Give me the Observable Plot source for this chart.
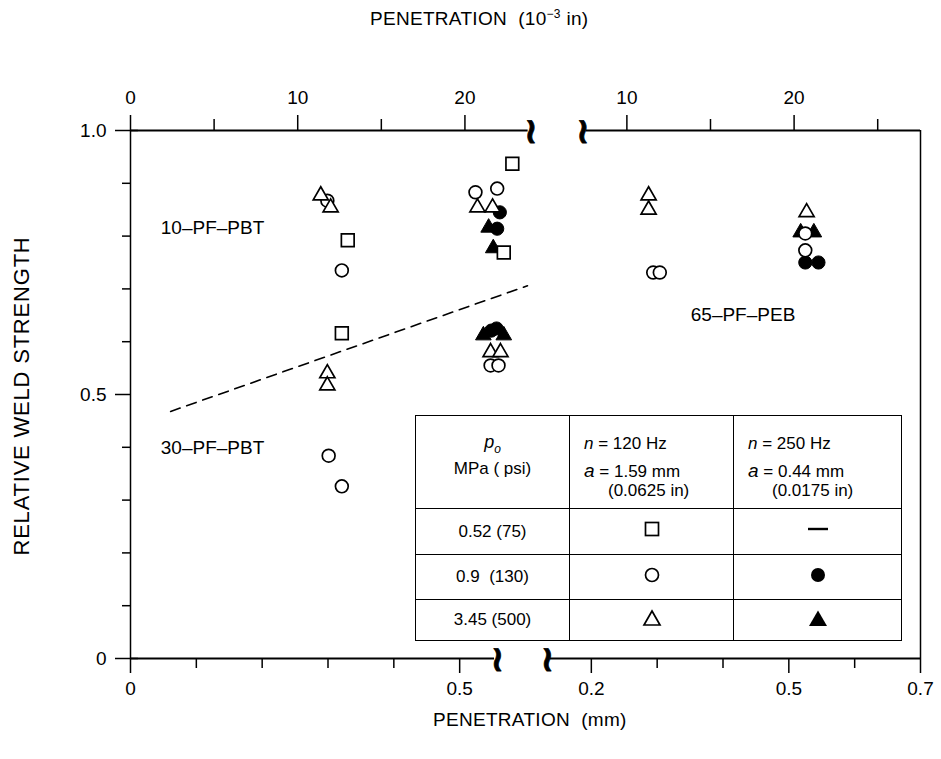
<!DOCTYPE html>
<html><head><meta charset="utf-8">
<script src="https://cdn.jsdelivr.net/npm/d3@7"></script>
<script src="https://cdn.jsdelivr.net/npm/@observablehq/plot@0.6"></script>
<style>
body{margin:0;background:#fff;}
#wrap{position:relative;width:941px;height:759px;font-family:"Liberation Sans",Arial,Helvetica,sans-serif;color:#000;}
#wrap svg.plot{position:absolute;left:0;top:0;}
.t{position:absolute;white-space:nowrap;font-size:19px;letter-spacing:0.3px;}
table{position:absolute;left:415px;top:415px;width:486px;height:226px;border-collapse:collapse;font-size:17px;background:#fff;table-layout:fixed;}
td{border:1.5px solid #000;padding:0;text-align:center;vertical-align:middle;}
td.h{text-align:left;padding-left:14px;vertical-align:top;padding-top:18px;font-size:17px;}
td.p{vertical-align:top;padding-top:17px;}
</style></head>
<body><div id="wrap"></div>
<script>
// ---- data (RELATIVE WELD STRENGTH vs PENETRATION, mm) ----
// panel "PBT" = left part of the broken axis, "PEB" = right part
const PEB_OFFSET = 0.5; // right panel value 0.2 sits where 0.7 would be

const openSquare120 = [
  {panel:"PBT", mm:0.330, s:0.792},
  {panel:"PBT", mm:0.321, s:0.616},
  {panel:"PBT", mm:0.580, s:0.937},
  {panel:"PBT", mm:0.567, s:0.769}
];
const openCircle120 = [
  {panel:"PBT", mm:0.299, s:0.867},
  {panel:"PBT", mm:0.321, s:0.735},
  {panel:"PBT", mm:0.301, s:0.384},
  {panel:"PBT", mm:0.321, s:0.326},
  {panel:"PBT", mm:0.524, s:0.883},
  {panel:"PBT", mm:0.557, s:0.890},
  {panel:"PBT", mm:0.547, s:0.555},
  {panel:"PBT", mm:0.559, s:0.555},
  {panel:"PEB", mm:0.294, s:0.731},
  {panel:"PEB", mm:0.304, s:0.731},
  {panel:"PEB", mm:0.525, s:0.805},
  {panel:"PEB", mm:0.525, s:0.773}
];
const openTriangle120 = [
  {panel:"PBT", mm:0.289, s:0.877},
  {panel:"PBT", mm:0.304, s:0.854},
  {panel:"PBT", mm:0.299, s:0.540},
  {panel:"PBT", mm:0.299, s:0.517},
  {panel:"PBT", mm:0.527, s:0.854},
  {panel:"PBT", mm:0.550, s:0.854},
  {panel:"PBT", mm:0.547, s:0.580},
  {panel:"PBT", mm:0.562, s:0.580},
  {panel:"PEB", mm:0.287, s:0.877},
  {panel:"PEB", mm:0.287, s:0.850},
  {panel:"PEB", mm:0.527, s:0.845}
];
const filledCircle250 = [
  {panel:"PBT", mm:0.561, s:0.845},
  {panel:"PBT", mm:0.557, s:0.814},
  {panel:"PBT", mm:0.548, s:0.621},
  {panel:"PBT", mm:0.556, s:0.625},
  {panel:"PEB", mm:0.525, s:0.750},
  {panel:"PEB", mm:0.545, s:0.750}
];
const filledTriangle250 = [
  {panel:"PBT", mm:0.544, s:0.816},
  {panel:"PBT", mm:0.551, s:0.777},
  {panel:"PBT", mm:0.536, s:0.612},
  {panel:"PBT", mm:0.567, s:0.612},
  {panel:"PEB", mm:0.518, s:0.807},
  {panel:"PEB", mm:0.538, s:0.807}
];
// dashed boundary line
const dashedLine = [
  {panel:"PBT", mm:0.061, s:0.468},
  {panel:"PBT", mm:0.603, s:0.706}
];
// material labels
const materialLabels = [
  {panel:"PBT", mm:0.046, s:0.816, text:"10–PF–PBT"},
  {panel:"PBT", mm:0.046, s:0.398, text:"30–PF–PBT"},
  {panel:"PEB", mm:0.351, s:0.650, text:"65–PF–PEB"}
];

// axis ticks (positions on the continuous broken-axis scale)
const bottomMajorPos = [0, 0.5, 0.7, 1.0, 1.2];
const bottomMajorLabels = ["0", "0.5", "0.2", "0.5", "0.7"];
const bottomMinorPos = [0.1, 0.2, 0.3, 0.4, 0.8, 0.9, 1.1];
const MIL = 0.0254; // mm per 10^-3 in
const topMajorMils = [0, 10, 20, 10, 20];
const topMajorPanels = ["PBT","PBT","PBT","PEB","PEB"];
const topMinorMils = [5, 15, 15, 25];
const topMinorPanels = ["PBT","PBT","PEB","PEB"];
const yMajor = [0, 0.5, 1.0];
const yMajorLabels = ["0", "0.5", "1.0"];
const yMinor = [0.1,0.2,0.3,0.4,0.6,0.7,0.8,0.9];
// axis breaks
const bottomBreaks = [0.557, 0.633];
const topBreaks = [0.608, 0.687];
const X_END = 1.2;

const pos = d => d.mm + (d.panel === "PEB" ? PEB_OFFSET : 0);
const topMajorPos = topMajorMils.map((m,i) => m*MIL + (topMajorPanels[i]==="PEB"?PEB_OFFSET:0));
const topMinorPos = topMinorMils.map((m,i) => m*MIL + (topMinorPanels[i]==="PEB"?PEB_OFFSET:0));
const bLab = new Map(bottomMajorPos.map((p,i)=>[p,bottomMajorLabels[i]]));
const tLab = new Map(topMajorPos.map((p,i)=>[p,String(topMajorMils[i])]));
const yLab = new Map(yMajor.map((p,i)=>[p,yMajorLabels[i]]));

const FS = 19;
const chart = Plot.plot({
  width: 941, height: 759,
  marginLeft: 130, marginRight: 21, marginTop: 130, marginBottom: 101,
  x: {domain: [0, X_END], axis: null},
  y: {domain: [0, 1], axis: null},
  style: {fontFamily: '"Liberation Sans", Arial, Helvetica, sans-serif', fontSize: FS + "px", color: "black", background: "transparent", overflow: "visible"},
  marks: [
    // axis lines
    Plot.ruleX([0], {y1: 0, y2: 1, strokeWidth: 1.5}),
    Plot.ruleX([X_END], {y1: 0, y2: 1, strokeWidth: 1.5}),
    Plot.ruleY([0], {x1: 0, x2: bottomBreaks[0] - 0.004, strokeWidth: 2}),
    Plot.ruleY([0], {x1: bottomBreaks[1] + 0.005, x2: X_END, strokeWidth: 2}),
    Plot.ruleY([1], {x1: 0, x2: topBreaks[0] - 0.004, strokeWidth: 2}),
    Plot.ruleY([1], {x1: topBreaks[1] + 0.005, x2: X_END, strokeWidth: 2}),
    // break symbols
    Plot.text(bottomBreaks, {x: d => d, y: 0, text: () => "≀", fontSize: 36, fontWeight: "bold", fontFamily: "DejaVu Sans", stroke: "black", strokeWidth: 0.8, fill: "black", dy: 1}),
    Plot.text(topBreaks, {x: d => d, y: 1, text: () => "≀", fontSize: 36, fontWeight: "bold", fontFamily: "DejaVu Sans", stroke: "black", strokeWidth: 0.8, fill: "black", dy: 1}),
    // bottom axis
    Plot.axisX({anchor: "bottom", ticks: bottomMajorPos, tickSize: 15, tickPadding: 8, tickFormat: d => bLab.get(d), label: null, strokeWidth: 1.5}),
    Plot.axisX({anchor: "bottom", ticks: bottomMinorPos, tickSize: 10, tickFormat: () => "", label: null, strokeWidth: 1.5}),
    // top axis
    Plot.axisX({anchor: "top", ticks: topMajorPos, tickSize: 16, tickPadding: 11, tickFormat: d => tLab.get(d), label: null, strokeWidth: 1.5}),
    Plot.axisX({anchor: "top", ticks: topMinorPos, tickSize: 12, tickFormat: () => "", label: null, strokeWidth: 1.5}),
    // left axis
    Plot.axisY({anchor: "left", ticks: yMajor, tickSize: 15, tickPadding: 9, tickFormat: d => yLab.get(d), label: null, strokeWidth: 1.5}),
    Plot.axisY({anchor: "left", ticks: yMinor, tickSize: 8, tickFormat: () => "", label: null, strokeWidth: 1.5}),
    Plot.ruleY([0, 1], {x1: 0, x2: 0.012, strokeWidth: 1.5}),
    // dashed line
    Plot.line(dashedLine, {x: pos, y: "s", stroke: "black", strokeWidth: 1.6, strokeDasharray: "10,7"}),
    // data
    Plot.dot(filledCircle250, {x: pos, y: "s", r: 6.6, fill: "black", stroke: "black", strokeWidth: 1}),
    Plot.dot(filledTriangle250, {x: pos, y: "s", symbol: "triangle", r: 5.8, fill: "black", stroke: "black", strokeWidth: 1}),
    Plot.dot(openCircle120, {x: pos, y: "s", r: 6.4, fill: "white", stroke: "black", strokeWidth: 1.7}),
    Plot.dot(openTriangle120, {x: pos, y: "s", symbol: "triangle", r: 5.6, fill: "white", stroke: "black", strokeWidth: 1.7}),
    Plot.dot(openSquare120, {x: pos, y: "s", symbol: "square", r: 7.2, fill: "white", stroke: "black", strokeWidth: 1.7}),
    // material labels
    Plot.text(materialLabels, {x: pos, y: "s", text: "text", textAnchor: "start", fontSize: 19})
  ]
});
chart.classList.add("plot");
const wrap = document.getElementById("wrap");
wrap.appendChild(chart);

function addText(html, left, top, extra) {
  const d = document.createElement("div");
  d.className = "t"; d.innerHTML = html;
  d.style.left = left + "px"; d.style.top = top + "px";
  if (extra) d.style.cssText += extra;
  wrap.appendChild(d);
  return d;
}
addText("PENETRATION&nbsp; (10<sup style='font-size:12px'>−3</sup> in)", 370, 7);
addText("PENETRATION&nbsp; (mm)", 433, 709);
addText("RELATIVE WELD STRENGTH", 22, 396, "transform:translate(-50%,-50%) rotate(-90deg);font-size:22px;letter-spacing:0.8px;");

// legend table
const sym = {
  square: '<svg width="18" height="18"><rect x="2.5" y="2.5" width="13" height="13" fill="none" stroke="#000" stroke-width="1.7"/></svg>',
  dash: '<svg width="22" height="18"><line x1="1" y1="9" x2="21" y2="9" stroke="#000" stroke-width="2.4"/></svg>',
  circle: '<svg width="18" height="18"><circle cx="9" cy="9" r="6.5" fill="none" stroke="#000" stroke-width="1.7"/></svg>',
  fcircle: '<svg width="18" height="18"><circle cx="9" cy="9" r="7" fill="#000"/></svg>',
  tri: '<svg width="20" height="18"><path d="M10,2 L18,16 L2,16 Z" fill="none" stroke="#000" stroke-width="1.7"/></svg>',
  ftri: '<svg width="20" height="18"><path d="M10,1.5 L19,17 L1,17 Z" fill="#000"/></svg>'
};
const pressures = ["0.52 (75)", "0.9&nbsp; (130)", "3.45 (500)"];
const sym120 = ["square", "circle", "tri"];
const sym250 = ["dash", "fcircle", "ftri"];
let html = '<colgroup><col style="width:154px"><col style="width:164px"><col style="width:168px"></colgroup>';
const hdr = (n, a, inch) => `<td class="h"><div style="line-height:20px"><i>n</i> = ${n} Hz</div>` +
  `<div style="line-height:20px;margin-top:7px"><i style="font-size:19px">a</i> = ${a} mm</div>` +
  `<div style="line-height:17px;padding-left:24px">(${inch} in)</div></td>`;
html += '<tr style="height:93px"><td class="p"><div style="line-height:19px"><i style="font-size:18px">p<sub style="font-size:12px">o</sub></i></div><div style="line-height:19px">MPa ( psi)</div></td>' +
  hdr("120", "1.59", "0.0625") + hdr("250", "0.44", "0.0175") + '</tr>';
const rowH = [46, 45, 41];
pressures.forEach((p, i) => {
  html += `<tr style="height:${rowH[i]}px"><td>${p}</td><td>${sym[sym120[i]]}</td><td>${sym[sym250[i]]}</td></tr>`;
});
const tbl = document.createElement("table");
tbl.innerHTML = html;
wrap.appendChild(tbl);
</script>
</body></html>
